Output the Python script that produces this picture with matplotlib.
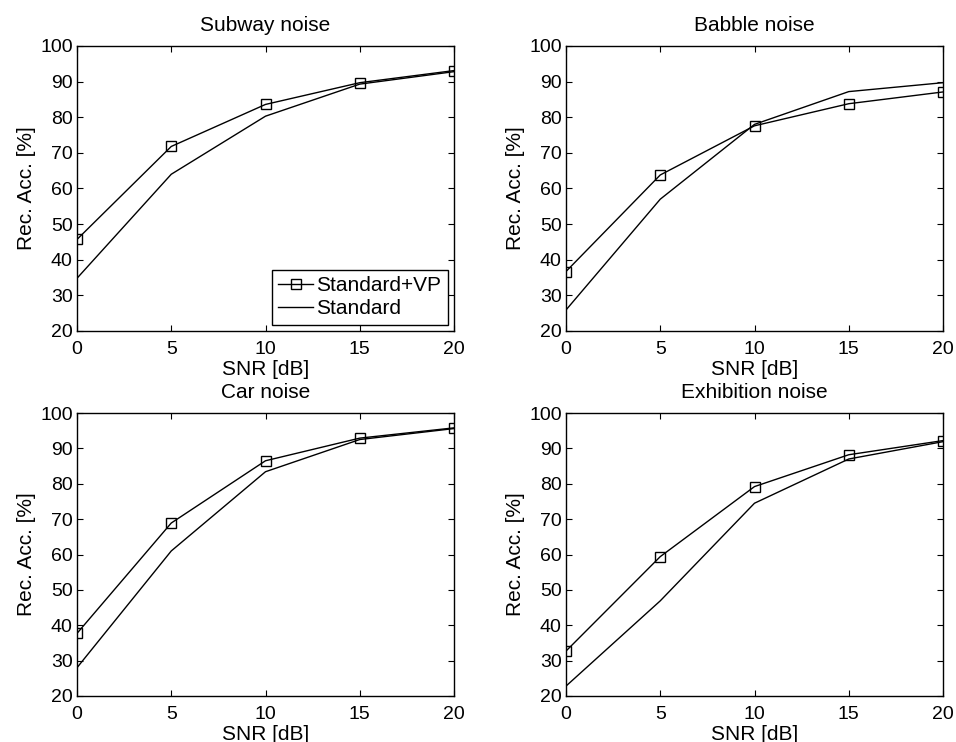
import matplotlib
matplotlib.use("Agg")
import matplotlib.pyplot as plt

plt.rcParams['font.family'] = ['Liberation Sans', 'DejaVu Sans']

snr = [0, 5, 10, 15, 20]

titles = ["Subway noise", "Babble noise", "Car noise", "Exhibition noise"]

# recognition accuracy [%]
subway_vp = [45.7, 71.8, 83.6, 89.7, 93.1]
subway_std = [34.8, 64.0, 80.3, 89.3, 92.8]
babble_vp = [36.7, 63.8, 77.6, 83.8, 87.1]
babble_std = [25.9, 57.0, 78.0, 87.2, 89.7]
car_vp = [37.7, 68.9, 86.5, 92.9, 95.8]
car_std = [28.0, 61.0, 83.4, 92.5, 95.6]
exhib_vp = [32.7, 59.4, 79.2, 88.2, 92.2]
exhib_std = [22.8, 46.9, 74.5, 87.0, 91.9]

vp_series = [subway_vp, babble_vp, car_vp, exhib_vp]
std_series = [subway_std, babble_std, car_std, exhib_std]

W, H = 956, 742
fig = plt.figure(figsize=(W / 100, H / 100), dpi=100)

# axes boxes in pixels: left, top, right, bottom
boxes = [(77, 46, 454, 331), (566, 46, 943, 331),
         (77, 413, 454, 696), (566, 413, 943, 696)]

for i, (l, t, r, b) in enumerate(boxes):
    ax = fig.add_axes([l / W, 1 - b / H, (r - l) / W, (b - t) / H])
    ax.plot(snr, vp_series[i], '-s', color='black', lw=1.0, ms=7,
            mfc='none', mew=1.0, label="Standard+VP")
    ax.plot(snr, std_series[i], '-', color='black', lw=1.0, label="Standard")
    ax.set_xlim(0, 20)
    ax.set_ylim(20, 100)
    ax.set_xticks(snr)
    ax.set_yticks(range(20, 101, 10))
    ax.tick_params(direction='in', top=True, right=True, length=4,
                   labelsize=14)
    ax.tick_params(axis='x', pad=7)
    ax.tick_params(axis='y', pad=3)
    ax.set_title(titles[i], fontsize=15, pad=10.5)
    ax.set_xlabel("SNR [dB]", fontsize=15, labelpad=1.5)
    ax.set_ylabel("Rec. Acc. [%]", fontsize=15, labelpad=3)
    for s in ax.spines.values():
        s.set_linewidth(1.0)
    if i == 0:
        leg = ax.legend(loc='lower right', fontsize=15, fancybox=False,
                        edgecolor='black', framealpha=1, handlelength=1.7,
                        handletextpad=0.15, borderpad=0.3, labelspacing=0.2,
                        borderaxespad=0.3)
        leg.get_frame().set_linewidth(1.0)

fig.savefig("out.png", dpi=100)
